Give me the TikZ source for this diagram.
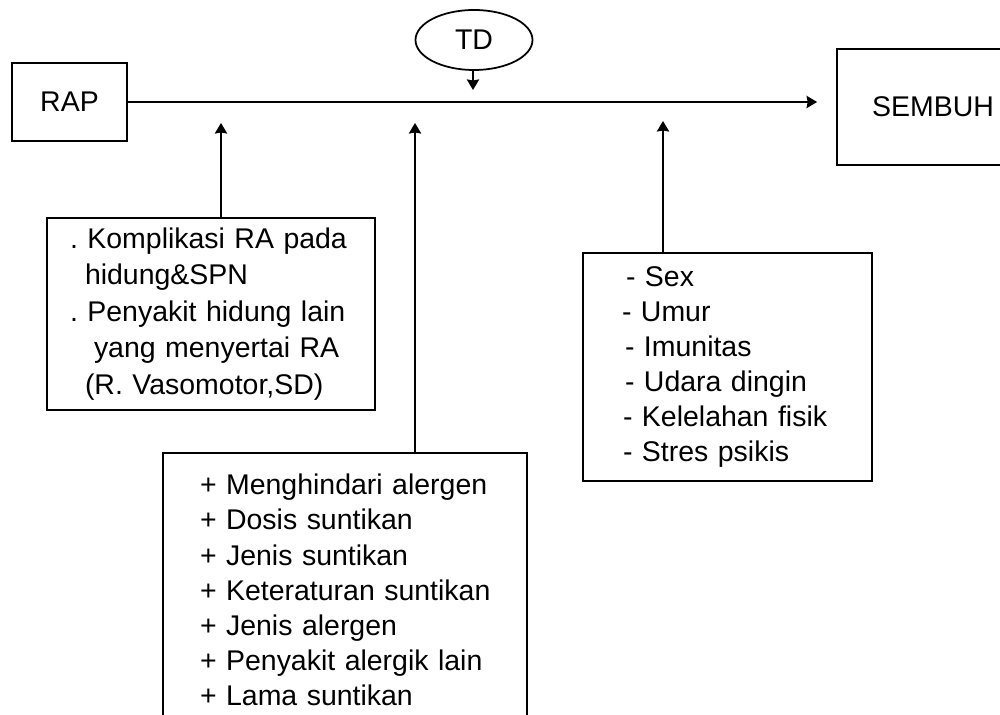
\documentclass[tikz,border=0pt]{standalone}
\usepackage{fontspec}
\setmainfont{Liberation Sans}
\usetikzlibrary{positioning,arrows.meta,shapes.geometric}

\begin{document}
\begin{tikzpicture}
\useasboundingbox (0,0) rectangle (20,-14.3);
\clip (0,0) rectangle (20,-14.3);
\begin{scope}[line width=1pt,
		node distance=1.6cm,on grid,>={Stealth[length=6pt,width=7pt,inset=0.6pt]},
		font=\fontsize{16.2}{20}\selectfont\frenchspacing,
		block/.style={rectangle,draw,inner sep=0pt},
		oval/.style={ellipse,draw,inner sep=0pt,minimum width=2.34cm,minimum height=1.2cm},
		list/.style={block,align=left}]
   \node [block,minimum width=2.3cm,minimum height=1.56cm] (rap) at (1.39,-2.04) {RAP};
   \node [block,minimum width=3.84cm,minimum height=2.32cm] (sembuh) [right=17.27cm of rap,yshift=-0.1cm] {SEMBUH};
   \node [oval] (td) [above right=1.24cm and 8.09cm of rap] {TD};

   \node [list,text width=5.64cm,inner xsep=0.46cm,minimum height=3.84cm,
          font=\fontsize{16.2}{20.8}\selectfont\frenchspacing]
         (komp) [below right=4.24cm and 2.83cm of rap]
         {. Komplikasi RA pada\\ \hspace*{0.3cm}hidung\&SPN\\ . Penyakit hidung lain\\
          \hspace*{0.48cm}yang menyertai RA\\ \hspace*{0.3cm}(R. Vasomotor,SD)};
   \node [list,text width=6.6cm,inner xsep=0.34cm,minimum height=5.48cm]
         (terapi) [below right=9.76cm and 5.51cm of rap]
         {\hspace*{0.4cm}+ Menghindari alergen\\ \hspace*{0.4cm}+ Dosis suntikan\\
          \hspace*{0.4cm}+ Jenis suntikan\\ \hspace*{0.4cm}+ Keteraturan suntikan\\
          \hspace*{0.4cm}+ Jenis alergen\\ \hspace*{0.4cm}+ Penyakit alergik lain\\
          \hspace*{0.4cm}+ Lama suntikan};
   \node [list,text width=4.22cm,inner xsep=0.78cm,minimum height=4.56cm]
         (faktor) [below right=5.3cm and 13.16cm of rap]
         {\hspace*{0.08cm}- Sex\\ - Umur\\ \hspace*{0.06cm}- Imunitas\\ \hspace*{0.06cm}- Udara dingin\\
          \hspace*{0.02cm}- Kelelahan fisik\\ \hspace*{0.02cm}- Stres psikis};

   % ujung panah di bawah garis utama
   \coordinate (p1) at (4.42,-2.46);
   \coordinate (p2) at (8.3,-2.46);
   \coordinate (p3) at (13.26,-2.42);
   \coordinate (tdend) at (9.46,-1.8);

   \draw [->] (rap.east) -- ([xshift=-0.38cm]rap.east -| sembuh.west);
   \draw [->] (td.south -| tdend) -- (tdend);
   \draw [->] (komp.north -| p1) -- (p1);
   \draw [->] (terapi.north -| p2) -- (p2);
   \draw [->] (faktor.north -| p3) -- (p3);
\end{scope}
\end{tikzpicture}
\end{document}
